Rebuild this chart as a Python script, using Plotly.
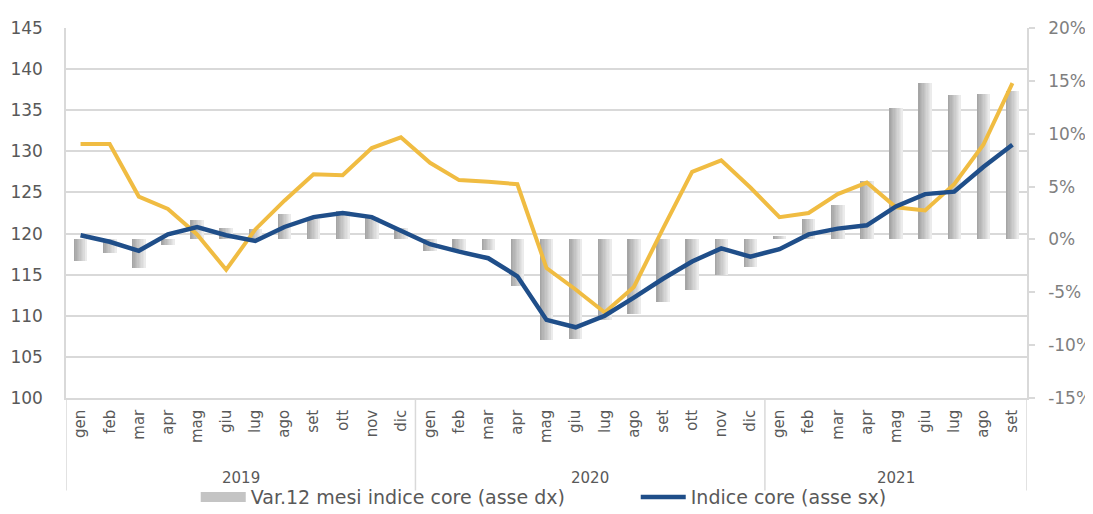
import plotly.graph_objects as go

# ---- data ----
month_names = ["gen", "feb", "mar", "apr", "mag", "giu", "lug", "ago", "set", "ott", "nov", "dic"]
years = ["2019", "2020", "2021"]
months_per_year = [12, 12, 9]

var12_pct = [-2.0, -1.3, -2.7, -0.5, 1.8, 1.1, 1.0, 2.4, 1.9, 2.7, 2.1, 1.1,
             -1.1, -1.0, -1.0, -4.4, -9.5, -9.4, -7.6, -7.1, -5.9, -4.8, -3.4, -2.6,
             0.3, 1.9, 3.3, 5.5, 12.4, 14.8, 13.7, 13.8, 14.0]

indice_core = [119.8, 119.0, 117.9, 119.9, 120.8, 119.8, 119.1, 120.8, 122.0, 122.5, 122.0, 120.3,
               118.7, 117.8, 117.0, 114.8, 109.5, 108.6, 110.0, 112.2, 114.5, 116.6, 118.2, 117.2,
               118.1, 119.9, 120.6, 121.0, 123.3, 124.8, 125.1, 128.1, 130.8]

indice_2 = [130.9, 130.9, 124.5, 123.0, 119.9, 115.6, 120.5, 124.0, 127.2, 127.1, 130.4, 131.7,
            128.6, 126.5, 126.3, 126.0, 115.8, 113.2, 110.4, 113.5, 120.6, 127.5, 128.9, 125.6,
            122.0, 122.5, 124.8, 126.2, 123.2, 122.8, 126.0, 130.8, 138.3]

left_ticks = [100, 105, 110, 115, 120, 125, 130, 135, 140, 145]
right_ticks = [-15, -10, -5, 0, 5, 10, 15, 20]
right_tick_text = ["-15%", "-10%", "-5%", "0%", "5%", "10%", "15%", "20%"]

# ---- derived labels ----
tick_text = []
for n in months_per_year:
    tick_text += month_names[:n]
xs = list(range(len(tick_text)))

FONT = "DejaVu Sans"
BLUE = "#1f4e89"
YELLOW = "#f0bc42"
GRID = "#d9d9d9"
BAR_LABEL = "Var.12 mesi indice core (asse dx)"

fig = go.Figure()

# gradient bars built from overlapping thin slices (dark left -> light right)
N = 10
W = 0.46
c0 = (165, 165, 165)
c1 = (235, 235, 235)
for k in range(N):
    t = k / (N - 1)
    col = "rgb(%d,%d,%d)" % tuple(int(round(a + (b - a) * t)) for a, b in zip(c0, c1))
    w = W / N * (1.8 if k < N - 1 else 1.0)
    fig.add_trace(go.Bar(
        x=xs, y=var12_pct, yaxis="y",
        width=w, offset=-W / 2 + k * W / N,
        marker=dict(color=col, line=dict(width=0)),
        name=BAR_LABEL, showlegend=False, legendgroup="bars",
        hoverinfo="skip",
    ))

# legend entry for the bars (wide grey swatch)
fig.add_trace(go.Scatter(
    x=[None], y=[None], yaxis="y", mode="lines",
    line=dict(color="#c4c4c4", width=10),
    name=BAR_LABEL, legendgroup="bars", showlegend=True,
))

fig.add_trace(go.Scatter(
    x=xs, y=indice_2, yaxis="y2", mode="lines",
    line=dict(color=YELLOW, width=4), showlegend=False, name="",
))
fig.add_trace(go.Scatter(
    x=xs, y=indice_core, yaxis="y2", mode="lines",
    line=dict(color=BLUE, width=4.5), name="Indice core (asse sx)",
))

# year labels and group dividers
start = 0
shapes = []
annotations = []
bounds = [-0.5]
for yr, n in zip(years, months_per_year):
    annotations.append(dict(x=start + (n - 1) / 2, y=-0.216, xref="x", yref="paper",
                            text=yr, showarrow=False, yanchor="middle",
                            font=dict(family=FONT, size=15, color="#595959")))
    start += n
    bounds.append(start - 0.5)
for b in bounds:
    shapes.append(dict(type="line", xref="x", yref="paper", x0=b, x1=b, y0=0, y1=-0.25,
                       line=dict(color=GRID, width=1.5)))

# page body adds an 8px offset, so the figure is sized/margined to compensate
fig.update_layout(
    width=1085, height=506,
    margin=dict(l=58, r=66, t=20, b=116, autoexpand=False),
    paper_bgcolor="white", plot_bgcolor="white",
    barmode="overlay", bargap=0,
    font=dict(family=FONT, size=17, color="#595959"),
    xaxis=dict(range=[-0.5, len(xs) - 0.5], tickvals=xs, ticktext=tick_text,
               tickangle=-90, tickfont=dict(size=15, color="#595959"),
               showgrid=False, zeroline=False, showline=True, linecolor=GRID, linewidth=1.5,
               ticks="", ticklabelstandoff=4, automargin=False),
    yaxis=dict(range=[-15, 20], tickvals=right_ticks, ticktext=right_tick_text,
               side="right", showgrid=False, zeroline=False,
               showline=True, linecolor=GRID, linewidth=1.5,
               ticks="outside", ticklen=6, tickcolor=GRID, tickwidth=1.5,
               ticklabelstandoff=10, automargin=False,
               tickfont=dict(size=17, color="#7f7f7f")),
    yaxis2=dict(range=[100, 145], tickvals=left_ticks, overlaying="y", side="left",
                showgrid=True, gridcolor=GRID, gridwidth=1.5, zeroline=False,
                showline=True, linecolor=GRID, linewidth=1.5,
                ticks="", ticklabelstandoff=18, automargin=False,
                tickfont=dict(size=17, color="#595959")),
    legend=dict(orientation="h", x=0.135, xanchor="left", y=-0.268, yanchor="middle",
                font=dict(family=FONT, size=19, color="#595959"),
                itemwidth=45, entrywidth=380, bgcolor="rgba(0,0,0,0)", tracegroupgap=0),
    shapes=shapes, annotations=annotations,
)

fig.write_html("out.html")
